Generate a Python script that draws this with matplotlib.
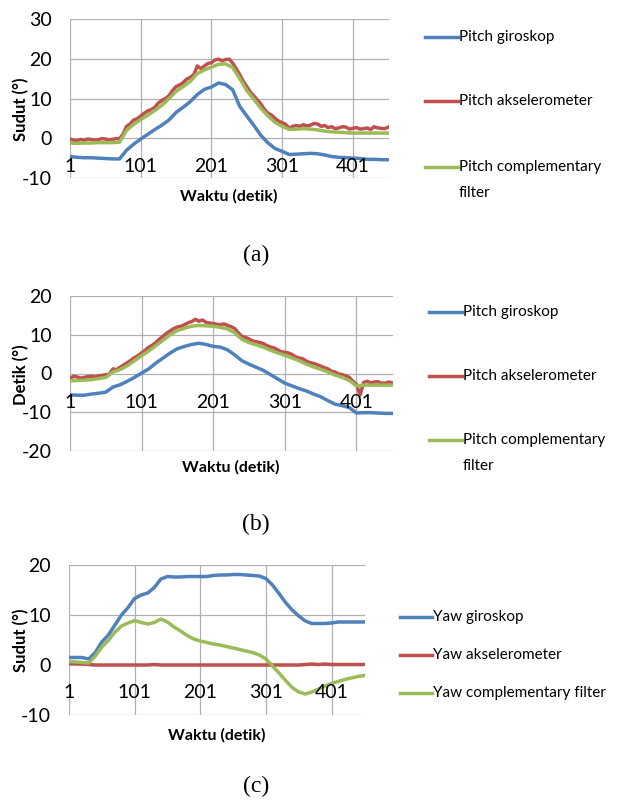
import numpy as np
import matplotlib
matplotlib.use("Agg")
from matplotlib import pyplot as plt
from matplotlib.lines import Line2D

plt.rcParams["axes.unicode_minus"] = False

# sample times (detik)
t10 = np.arange(1, 452, 10)
t5 = np.arange(1, 452, 5)

# ---- (a) pitch ----
a_giro = [-4.6, -4.8, -4.9, -4.9, -5.0, -5.1, -5.2, -5.2, -3.0, -1.5,
          -0.2, 1.0, 2.2, 3.3, 4.6, 6.5, 7.8, 9.2, 11.0, 12.3,
          12.9, 13.9, 13.5, 12.2, 8.0, 5.6, 3.2, 0.7, -1.2, -2.6,
          -3.3, -4.1, -4.0, -3.9, -3.8, -3.9, -4.2, -4.6, -4.8, -4.9,
          -5.0, -5.1, -5.3, -5.3, -5.4, -5.4]
a_comp = [-1.2, -1.3, -1.2, -1.2, -1.1, -1.1, -1.1, -1.0, 2.0, 3.5,
          4.7, 5.8, 7.0, 8.3, 10.0, 11.8, 13.0, 14.3, 16.3, 17.2,
          17.9, 18.6, 18.7, 17.8, 15.0, 12.0, 9.8, 7.5, 5.6, 4.0,
          3.0, 2.2, 2.3, 2.4, 2.3, 2.1, 1.8, 1.6, 1.5, 1.4,
          1.3, 1.3, 1.3, 1.3, 1.3, 1.3]
a_accel = [-0.2, -0.5, -0.6, -0.3, -0.5, -0.2, -0.3, -0.5, -0.4, -0.1,
           -0.2, -0.4, -0.3, -0.1, -0.1, 1.0, 3.0, 3.6, 4.6, 4.9,
           5.6, 6.3, 6.9, 7.2, 7.8, 8.9, 9.5, 10.0, 10.7, 12.0,
           13.0, 13.4, 14.0, 14.9, 15.3, 16.0, 18.2, 17.5, 18.2, 18.8,
           19.0, 19.7, 19.9, 19.5, 19.8, 19.9, 18.9, 17.5, 16.0, 14.3,
           13.0, 11.6, 10.6, 9.6, 8.6, 7.2, 6.3, 5.8, 5.0, 4.3,
           3.9, 3.5, 2.5, 3.0, 3.2, 3.0, 3.4, 3.1, 3.3, 3.7,
           3.6, 3.0, 3.2, 2.7, 2.9, 2.4, 2.6, 2.9, 2.8, 2.3,
           2.5, 2.7, 2.3, 2.4, 2.6, 2.2, 2.9, 2.6, 2.5, 2.4,
           2.8]

# ---- (b) pitch ----
b_giro = [-5.5, -5.6, -5.6, -5.3, -5.1, -4.8, -3.5, -2.9, -2.0, -1.0,
          0.1, 1.2, 2.7, 4.0, 5.3, 6.4, 7.0, 7.5, 7.8, 7.5,
          7.0, 6.8, 6.1, 4.8, 3.3, 2.4, 1.6, 0.8, -0.3, -1.4,
          -2.5, -3.2, -3.9, -4.5, -5.3, -6.0, -7.0, -7.9, -8.3, -8.8,
          -10.2, -10.1, -10.1, -10.2, -10.3, -10.3]
b_comp = [-1.9, -1.8, -1.7, -1.6, -1.3, -1.0, 0.4, 1.0, 2.0, 3.3,
          4.6, 5.8, 7.2, 8.6, 10.0, 11.1, 11.7, 12.2, 12.4, 12.3,
          12.2, 11.9, 11.5, 10.5, 8.8, 8.0, 7.4, 6.8, 6.0, 5.3,
          4.7, 4.0, 3.3, 2.4, 1.7, 1.1, 0.4, -0.4, -1.0, -1.8,
          -3.2, -3.0, -3.0, -3.0, -3.0, -3.0]
b_accel = [-1.3, -0.7, -0.9, -1.2, -1.0, -0.8, -0.7, -0.9, -0.6, -0.5,
           -0.3, -0.2, 1.2, 1.0, 1.6, 2.2, 2.8, 3.4, 4.1, 4.6,
           5.3, 6.0, 6.8, 7.3, 8.0, 8.9, 9.6, 10.4, 11.0, 11.6,
           12.0, 12.2, 12.6, 13.1, 13.4, 14.0, 13.5, 13.8, 13.2, 13.0,
           12.9, 12.7, 12.6, 12.8, 12.4, 12.1, 11.6, 10.5, 9.6, 9.3,
           8.9, 8.4, 8.2, 8.0, 7.7, 7.2, 6.8, 6.6, 6.1, 5.6,
           5.5, 5.3, 4.9, 4.3, 4.0, 3.8, 3.2, 2.8, 2.6, 2.3,
           1.9, 1.5, 1.2, 0.6, 0.4, -0.1, -0.3, -0.6, -1.0, -2.0,
           -2.8, -5.6, -2.3, -2.0, -2.4, -2.2, -2.1, -2.5, -2.5, -2.2,
           -2.4]

# ---- (c) yaw ----
c_giro = [1.5, 1.5, 1.5, 1.2, 2.5, 4.6, 6.0, 8.0, 10.0, 11.5,
          13.3, 14.0, 14.4, 15.5, 17.2, 17.7, 17.6, 17.6, 17.7, 17.7,
          17.7, 17.7, 17.9, 18.0, 18.0, 18.1, 18.1, 18.0, 17.9, 17.8,
          17.3, 16.0, 14.3, 12.5, 11.0, 9.8, 8.8, 8.3, 8.3, 8.3,
          8.4, 8.6, 8.6, 8.6, 8.6, 8.6]
c_accel = [0.3, 0.3, 0.2, 0.1, 0.0, 0.0, 0.0, 0.0, 0.0, 0.0,
           0.0, 0.0, 0.0, 0.1, 0.0, 0.0, 0.0, 0.0, 0.0, 0.0,
           0.0, 0.0, 0.0, 0.0, 0.0, 0.0, 0.0, 0.0, 0.0, 0.0,
           0.0, 0.0, 0.0, 0.0, 0.0, 0.0, 0.1, 0.2, 0.1, 0.2,
           0.1, 0.1, 0.1, 0.1, 0.1, 0.1]
c_comp = [0.7, 0.6, 0.5, 0.4, 1.8, 3.6, 4.9, 6.6, 7.8, 8.4,
          8.9, 8.5, 8.2, 8.5, 9.2, 8.6, 7.6, 6.8, 5.9, 5.2,
          4.8, 4.5, 4.2, 4.0, 3.7, 3.4, 3.1, 2.8, 2.5, 2.0,
          1.2, -0.2, -1.6, -3.1, -4.5, -5.4, -5.8, -5.4, -4.8, -4.2,
          -3.7, -3.3, -2.9, -2.6, -2.3, -2.1]

xticks = [1, 101, 201, 301, 401]
pitch_labels = ["Pitch giroskop", "Pitch akselerometer", "Pitch complementary\nfilter"]
yaw_labels = ["Yaw giroskop", "Yaw akselerometer", "Yaw complementary filter"]

BLUE = "#4f81bd"
RED = "#c0504d"
GREEN = "#9bbb59"
GRID = "#b0b0b0"
FONT = ["Lato", "DejaVu Sans"]

W, H = 617, 802
fig = plt.figure(figsize=(W / 100, H / 100), dpi=100)


def px_axes(left, top, right, bottom):
    return fig.add_axes([left / W, 1 - bottom / H, (right - left) / W, (bottom - top) / H])


def setup(ax, ylim, yticks, ylabel, xlab_y, xlabel_px, ylabel_px):
    ax.set_xlim(1, 452)
    ax.set_ylim(*ylim)
    ax.set_yticks(yticks)
    ax.set_xticks(xticks)
    ax.set_xticklabels([])
    ax.grid(True, color=GRID, lw=0.9)
    ax.set_axisbelow(True)
    for s in ax.spines.values():
        s.set_visible(False)
    ax.tick_params(length=0, pad=13, labelsize=14)
    for lab in ax.get_yticklabels():
        lab.set_family(FONT)
    for x in xticks:
        ax.text(x, xlab_y, str(x), ha="center", va="center", fontsize=14, family=FONT)
    fig.text(ylabel_px[0] / W, 1 - ylabel_px[1] / H, ylabel, rotation=90, ha="center", va="center",
             fontsize=12, fontweight="bold", family=FONT)
    fig.text(xlabel_px[0] / W, 1 - xlabel_px[1] / H, "Waktu (detik)", ha="center", va="center",
             fontsize=11.5, fontweight="bold", family=FONT)


def legend(x0, x1, ys, labels):
    colors = [BLUE, RED, GREEN]
    for y, lab, c in zip(ys, labels, colors):
        fig.add_artist(Line2D([x0 / W, x1 / W], [1 - y / H] * 2, color=c, lw=2.5,
                              transform=fig.transFigure))
        first, *rest = lab.split("\n")
        fig.text((x1 + 1) / W, 1 - y / H, first, ha="left", va="center", fontsize=11, family=FONT)
        if rest:
            fig.text((x1 + 1) / W, 1 - (y + 26) / H, rest[0], ha="left", va="center",
                     fontsize=11, family=FONT)


# (a)
ax = px_axes(70, 19, 389, 178)
ax.plot(t10, a_giro, color=BLUE, lw=2.5)
ax.plot(t5, a_accel, color=RED, lw=2.5)
ax.plot(t10, a_comp, color=GREEN, lw=2.5)
setup(ax, (-10, 30), [-10, 0, 10, 20, 30], "Sudut (°)", -7.2, (229, 196), (21, 109))
legend(425, 458, [37, 101, 167], pitch_labels)
fig.text(256 / W, 1 - 255 / H, "(a)", ha="center", va="center", fontsize=17, family="Liberation Serif")

# (b)
ax = px_axes(70, 296, 393, 451)
ax.plot(t10, b_giro, color=BLUE, lw=2.5)
ax.plot(t5, b_accel, color=RED, lw=2.5)
ax.plot(t10, b_comp, color=GREEN, lw=2.5)
setup(ax, (-20, 20), [-20, -10, 0, 10, 20], "Detik (°)", -7.4, (231, 467), (21, 375))
legend(429, 462, [312, 376, 440], pitch_labels)
fig.text(256 / W, 1 - 524 / H, "(b)", ha="center", va="center", fontsize=17, family="Liberation Serif")

# (c)
ax = px_axes(69, 565, 365, 715)
ax.plot(t10, c_giro, color=BLUE, lw=2.5)
ax.plot(t10, c_accel, color=RED, lw=2.5)
ax.plot(t10, c_comp, color=GREEN, lw=2.5)
setup(ax, (-10, 20), [-10, 0, 10, 20], "Sudut (°)", -5.6, (217, 735), (21, 640))
legend(400, 432, [617, 655, 693], yaw_labels)
fig.text(256 / W, 1 - 786 / H, "(c)", ha="center", va="center", fontsize=17, family="Liberation Serif")

fig.savefig("out.png", dpi=100)
